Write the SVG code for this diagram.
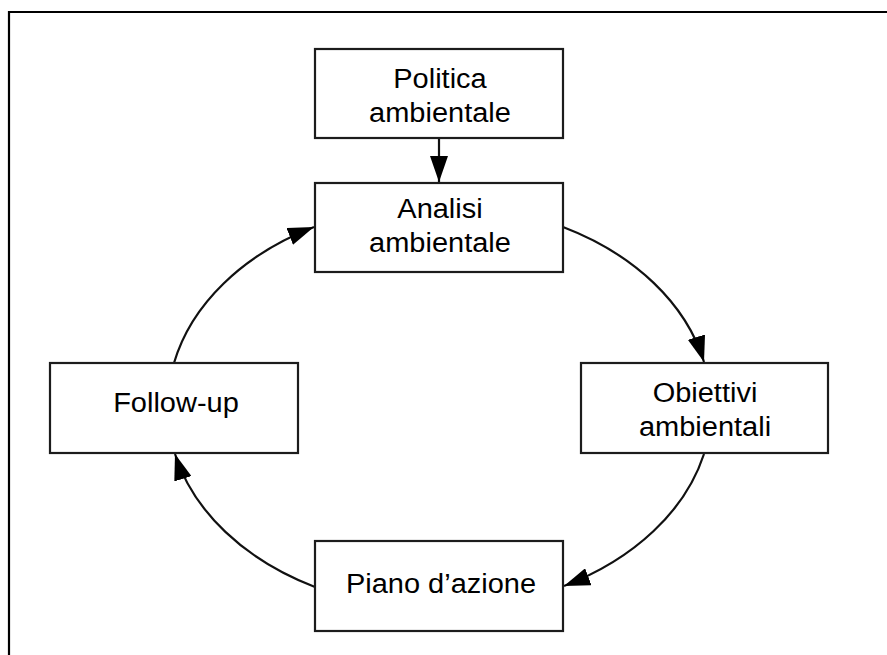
<svg xmlns="http://www.w3.org/2000/svg" width="887" height="655" viewBox="0 0 887 655">
<style>
.box{fill:#fff;stroke:#1c1c1c;stroke-width:2.2}
.t{font-family:"Liberation Sans",Arial,sans-serif;font-size:27px;fill:#000;text-anchor:middle}
.c{fill:none;stroke:#111;stroke-width:2.2;marker-end:url(#ah)}
</style>
<defs>
<marker id="ah" markerUnits="userSpaceOnUse" viewBox="0 0 26 18" refX="26" refY="9" markerWidth="26" markerHeight="18" orient="auto">
<path d="M0,0 L26,9 L0,18 z" fill="#000"/>
</marker>
</defs>
<rect width="887" height="655" fill="#fff"/>
<path d="M9,655 V12 H887" fill="none" stroke="#000" stroke-width="2.2"/>
<g id="connectors">
<path class="c" d="M439,138 V182"/>
<path class="c" d="M563,227 A272 202 0 0 1 704,362"/>
<path class="c" d="M704,454 A272 202 0 0 1 564,586"/>
<path class="c" d="M315,587 A272 202 0 0 1 175,454"/>
<path class="c" d="M174,363 A272 202 0 0 1 314,227"/>
</g>
<g id="politica">
<rect class="box" x="315" y="49" width="248" height="89"/>
<text class="t" x="440" y="88" textLength="93.5" lengthAdjust="spacingAndGlyphs">Politica</text>
<text class="t" x="440" y="122" textLength="141.8" lengthAdjust="spacingAndGlyphs">ambientale</text>
</g>
<g id="analisi">
<rect class="box" x="315" y="183" width="248" height="89"/>
<text class="t" x="440" y="218" textLength="85.4" lengthAdjust="spacingAndGlyphs">Analisi</text>
<text class="t" x="440" y="252" textLength="141.8" lengthAdjust="spacingAndGlyphs">ambientale</text>
</g>
<g id="obiettivi">
<rect class="box" x="581" y="363" width="247" height="90"/>
<text class="t" x="705" y="402" textLength="104.7" lengthAdjust="spacingAndGlyphs">Obiettivi</text>
<text class="t" x="705" y="436" textLength="132.2" lengthAdjust="spacingAndGlyphs">ambientali</text>
</g>
<g id="piano">
<rect class="box" x="315" y="541" width="248" height="90"/>
<text class="t" x="441" y="593" textLength="190.2" lengthAdjust="spacingAndGlyphs">Piano d’azione</text>
</g>
<g id="followup">
<rect class="box" x="50" y="363" width="248" height="90"/>
<text class="t" x="176" y="412" textLength="125.7" lengthAdjust="spacingAndGlyphs">Follow-up</text>
</g>
</svg>
